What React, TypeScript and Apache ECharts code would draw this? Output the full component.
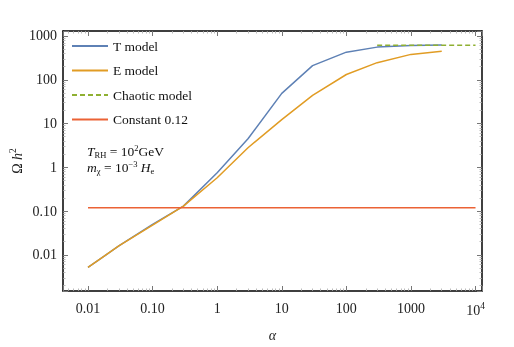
import React, { useEffect, useRef } from 'react';
import * as echarts from 'echarts';

const alpha = [0.01, 0.03, 0.1, 0.3, 1, 3, 10, 30, 100, 300, 1000, 3000];
const tModel = [0.0052, 0.016, 0.05, 0.13, 0.75, 4.5, 49, 210, 427, 557, 610, 620];
const eModel = [0.0052, 0.016, 0.048, 0.13, 0.58, 2.8, 12.3, 44, 132, 246, 380, 450];
const chaoticAlpha = [300, 1000, 3000, 10000];
const chaoticModel = [615, 615, 615, 615];
const constAlpha = [0.01, 10000];
const constValue = [0.12, 0.12];

const xTickLabels: Record<string, string> = {
  '-2': '0.01', '-1': '0.10', '0': '1', '1': '10', '2': '100', '3': '1000', '4': '{b|10}{s|4}',
};
const yTickLabels: Record<string, string> = {
  '-2': '0.01', '-1': '0.10', '0': '1', '1': '10', '2': '100', '3': '1000',
};

const FONT = "'Liberation Serif', 'DejaVu Serif', serif";

function labelFor(map: Record<string, string>) {
  return (v: number) => {
    const l = Math.log10(v);
    const r = Math.round(l);
    if (Math.abs(l - r) > 1e-6) return '';
    return map[String(r)] ?? '';
  };
}

export default function App() {
  const ref = useRef<HTMLDivElement>(null);
  useEffect(() => {
    const chart = echarts.init(ref.current!, null, { renderer: 'svg' });
    const axisCommon = {
      axisLine: { show: true, lineStyle: { color: '#000', width: 1.5 } },
      axisTick: { show: true, inside: true, length: 5, lineStyle: { color: '#777', width: 1 } },
      minorTick: { show: true, inside: true, splitNumber: 9, length: 2.5, lineStyle: { color: '#aaa', width: 0.8 } },
      splitLine: { show: false },
      minorSplitLine: { show: false },
    };
    const xMin = 0.0041, xMax = 12600, yMin = 0.0015, yMax = 1300;
    const lineS = (name: string, xs: number[], ys: number[], color: string, type: any = 'solid') => ({
      name,
      type: 'line',
      data: xs.map((x, i) => [x, ys[i]]),
      symbol: 'none',
      lineStyle: { color, width: 1.5, type },
      itemStyle: { color },
      smooth: false,
      z: 3,
    });
    chart.setOption({
      animation: false,
      textStyle: { fontFamily: FONT },
      grid: { left: 63, right: 32, top: 31, bottom: 56, show: false, containLabel: false, outerBoundsMode: 'none' },
      legend: {
        orient: 'vertical',
        left: 66,
        top: 34,
        itemWidth: 36,
        itemHeight: 10,
        itemGap: 10.5,
        itemStyle: { opacity: 0 },
        textStyle: { fontFamily: FONT, fontSize: 13.5, color: '#111' },
        data: ['T model', 'E model', 'Chaotic model', 'Constant 0.12'],
      },
      xAxis: [
        {
          ...axisCommon,
          type: 'log',
          min: xMin,
          max: xMax,
          position: 'bottom',
          name: 'α',
          nameLocation: 'middle',
          nameGap: 37,
          nameMoveOverlap: false,
          nameTextStyle: { fontFamily: FONT, fontSize: 14, fontStyle: 'italic', color: '#222' },
          axisLabel: {
            margin: 10,
            fontFamily: FONT,
            fontSize: 14,
            color: '#222',
            formatter: labelFor(xTickLabels),
            rich: {
              b: { fontFamily: FONT, fontSize: 14, color: '#222' },
              s: { fontFamily: FONT, fontSize: 9.5, color: '#222', verticalAlign: 'top', lineHeight: 18 },
            },
          },
        },
        {
          ...axisCommon,
          type: 'log',
          min: xMin,
          max: xMax,
          position: 'top',
          axisLabel: { show: false },
        },
      ],
      yAxis: [
        {
          ...axisCommon,
          type: 'log',
          min: yMin,
          max: yMax,
          position: 'left',
          name: '{o|Ω} {h|h}{s|2}',
          nameLocation: 'middle',
          nameGap: 37,
          nameMoveOverlap: false,
          nameTextStyle: {
            fontFamily: FONT,
            fontSize: 14,
            color: '#222',
            rich: {
              o: { fontFamily: FONT, fontSize: 14, color: '#222' },
              h: { fontFamily: FONT, fontSize: 14, fontStyle: 'italic', color: '#222' },
              s: { fontFamily: FONT, fontSize: 9.5, color: '#222', verticalAlign: 'top', lineHeight: 18 },
            },
          },
          axisLabel: {
            margin: 6,
            fontFamily: FONT,
            fontSize: 14,
            color: '#222',
            formatter: labelFor(yTickLabels),
          },
        },
        {
          ...axisCommon,
          type: 'log',
          min: yMin,
          max: yMax,
          position: 'right',
          axisLabel: { show: false },
        },
      ],
      graphic: [
        {
          type: 'text',
          left: 87,
          top: 143,
          style: {
            text: '{i|T}{sub|RH}{n| = 10}{sup|2}{n|GeV}\n{i|m}{sub|χ}{n| = 10}{sup|−3}{i| H}{sub|e}',
            fontFamily: FONT,
            rich: {
              i: { fontFamily: FONT, fontSize: 13.5, fontStyle: 'italic', fill: '#111', lineHeight: 16 },
              n: { fontFamily: FONT, fontSize: 13.5, fill: '#111', lineHeight: 16 },
              sub: { fontFamily: FONT, fontSize: 8.5, fill: '#111', verticalAlign: 'bottom', lineHeight: 16 },
              sup: { fontFamily: FONT, fontSize: 8.5, fill: '#111', verticalAlign: 'top', lineHeight: 16 },
            },
          },
        },
      ],
      series: [
        lineS('T model', alpha, tModel, '#5E81B5'),
        lineS('E model', alpha, eModel, '#E19C24'),
        lineS('Chaotic model', chaoticAlpha, chaoticModel, '#8FB032', [5, 3]),
        lineS('Constant 0.12', constAlpha, constValue, '#EB6235'),
      ],
    });
    return () => chart.dispose();
  }, []);
  return <div ref={ref} style={{ position: 'fixed', left: 0, top: 0, width: 514, height: 347 }} />;
}
